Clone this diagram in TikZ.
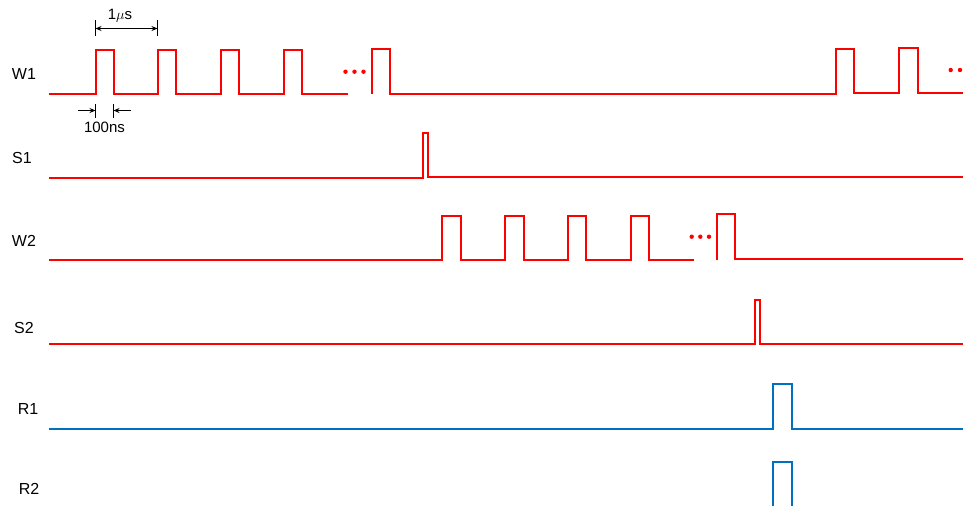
\documentclass[tikz,border=0pt]{standalone}
\usepackage{fontspec}
\setmainfont{Liberation Sans}
\usetikzlibrary{arrows.meta}
\definecolor{sigred}{RGB}{255,0,0}
\definecolor{sigblue}{RGB}{0,112,192}
\begin{document}
\begin{tikzpicture}[x=1pt,y=-1pt,
  redsig/.style={draw=sigred,line width=2pt,line join=miter},
  bluesig/.style={draw=sigblue,line width=2pt,line join=miter},
  siglabel/.style={font=\fontsize{16}{18}\selectfont,inner sep=0pt},
  annot/.style={font=\fontsize{15}{17}\selectfont,inner sep=0pt},
  dimline/.style={line width=1pt,-{Stealth[length=6pt,width=5pt]}},
  tick/.style={line width=1pt},
  dotmark/.style={fill=sigred,draw=none}]
\useasboundingbox (0,0) rectangle (964,506);
\clip (0,0) rectangle (964,506);
% labels
\node[siglabel] (lW1) at (24,73.5) {W1};
\node[siglabel] (lS1) at (22,157.5) {S1};
\node[siglabel] (lW2) at (24,241) {W2};
\node[siglabel] (lS2) at (24,328) {S2};
\node[siglabel] (lR1) at (28,408.5) {R1};
\node[siglabel] (lR2) at (29,489) {R2};
% W1
\path[redsig] (49,94) -- (96,94) -- (96,50) -- (114,50) -- (114,94)
  -- (158,94) -- (158,50) -- (176,50) -- (176,94)
  -- (221,94) -- (221,50) -- (239,50) -- (239,94)
  -- (284,94) -- (284,50) -- (302,50) -- (302,94) -- (348,94);
\path[redsig] (372,94) -- (372,49) -- (390,49) -- (390,94)
  -- (836,94) -- (836,49) -- (854,49) -- (854,93)
  -- (899,93) -- (899,48) -- (918,48) -- (918,93) -- (963,93);
\foreach \x in {345.5,354.5,363.5} \fill[dotmark] (\x,71.7) circle (2.2pt);
\foreach \x in {950.7,960} \fill[dotmark] (\x,70) circle (2.2pt);
% dimension 1us
\coordinate (t1a) at (95.5,20);
\coordinate (t1b) at (95.5,36);
\coordinate (t2a) at (157.5,20);
\coordinate (t2b) at (157.5,36);
\draw[tick] (t1a) -- (t1b);
\draw[tick] (t2a) -- (t2b);
\coordinate (a1) at (95.5,28.5);
\coordinate (a2) at (157.5,28.5);
\draw[line width=1pt,{Stealth[length=6pt,width=5pt]}-{Stealth[length=6pt,width=5pt]}] (a1) -- (a2);
\node[annot] (us) at (120,16) {1$\mu$s};
% dimension 100ns
\coordinate (t3a) at (95.5,104);
\coordinate (t3b) at (95.5,118);
\coordinate (t4a) at (113.5,104);
\coordinate (t4b) at (113.5,118);
\draw[tick] (t3a) -- (t3b);
\draw[tick] (t4a) -- (t4b);
\coordinate (b0) at (78,110.5);
\coordinate (b1) at (95.5,110.5);
\coordinate (b2) at (113.5,110.5);
\coordinate (b3) at (131,110.5);
\draw[dimline] (b0) -- (b1);
\draw[dimline] (b3) -- (b2);
\node[annot] (ns) at (104.5,127.5) {100ns};
% S1
\path[redsig] (49,178) -- (423,178) -- (423,133) -- (428,133) -- (428,177) -- (963,177);
% W2
\path[redsig] (49,260) -- (442,260) -- (442,216) -- (461,216) -- (461,260)
  -- (505,260) -- (505,216) -- (524,216) -- (524,260)
  -- (568,260) -- (568,216) -- (586,216) -- (586,260)
  -- (631,260) -- (631,216) -- (649,216) -- (649,260) -- (694,260);
\path[redsig] (717,260) -- (717,214) -- (735,214) -- (735,259) -- (963,259);
\foreach \x in {691.7,700.3,709} \fill[dotmark] (\x,236.7) circle (2.2pt);
% S2
\path[redsig] (49,344) -- (755,344) -- (755,300) -- (760,300) -- (760,344) -- (963,344);
% R1
\path[bluesig] (49,429) -- (773,429) -- (773,384) -- (792,384) -- (792,429) -- (963,429);
% R2
\path[bluesig] (773,510) -- (773,462) -- (792,462) -- (792,510);
\end{tikzpicture}
\end{document}
